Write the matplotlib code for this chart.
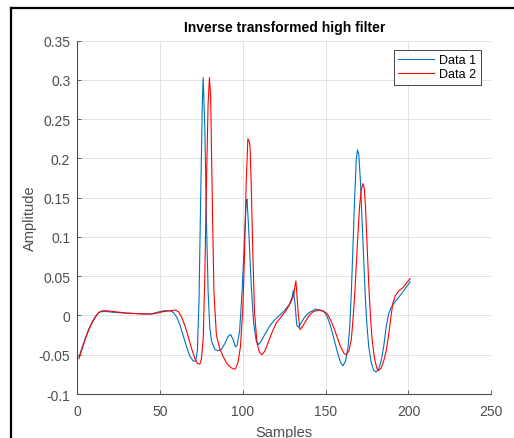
# Recreates the "Inverse transformed high filter" plot (MATLAB look)

import matplotlib
matplotlib.use('Agg')
import matplotlib.pyplot as plt
from matplotlib.lines import Line2D
from matplotlib.ticker import FuncFormatter

plt.rcParams['font.family'] = ['Liberation Sans', 'DejaVu Sans']

# Data 1 (blue)
x1 = [1, 3, 5, 7, 9, 11, 13, 15, 18, 22, 30, 40, 45, 48, 52, 56, 58, 60, 62, 64,
      66, 68, 70, 71.5, 72.5, 73.5, 74.5, 75.5, 76, 77, 78, 79, 80, 81, 83, 85, 87,
      89, 91, 92.5, 94, 95.5, 96.5, 98, 99.5, 101, 102, 102.5, 103.5, 105, 106.5,
      108, 109.5, 111, 113, 116, 119, 122, 125, 128, 129.5, 130.5, 131.5, 132.5,
      133.5, 135, 137, 139, 141, 144, 147, 149, 151, 153, 155, 157, 159, 160.5,
      162, 163.5, 164.5, 165.5, 166.5, 167.5, 168.5, 169.2, 170, 171, 172, 173,
      174, 175, 176, 177.5, 179, 180.5, 182, 183.5, 185, 186.5, 188, 189.5, 191,
      194, 197, 201]
y1 = [-0.053, -0.040, -0.028, -0.017, -0.008, -0.001, 0.004, 0.005, 0.005, 0.004,
      0.003, 0.002, 0.002, 0.004, 0.006, 0.006, 0.004, -0.002, -0.012, -0.026,
      -0.040, -0.052, -0.058, -0.058, -0.045, 0.02, 0.15, 0.27, 0.303, 0.24, 0.12,
      0.03, -0.015, -0.032, -0.043, -0.045, -0.043, -0.036, -0.027, -0.024, -0.030,
      -0.040, -0.038, -0.02, 0.03, 0.10, 0.145, 0.148, 0.11, 0.04, -0.01, -0.032,
      -0.037, -0.033, -0.025, -0.014, -0.006, 0.000, 0.006, 0.014, 0.022, 0.032,
      0.015, -0.012, -0.015, -0.010, -0.003, 0.002, 0.005, 0.008, 0.007, 0.005,
      -0.002, -0.014, -0.030, -0.046, -0.060, -0.064, -0.058, -0.040, -0.015, 0.03,
      0.09, 0.15, 0.200, 0.211, 0.205, 0.17, 0.12, 0.07, 0.02, -0.015, -0.040,
      -0.060, -0.070, -0.072, -0.068, -0.058, -0.040, -0.015, 0.002, 0.010, 0.015,
      0.023, 0.031, 0.043]

# Data 2 (red)
x2 = [1, 3, 5, 7, 9, 11, 13, 15, 18, 22, 30, 40, 45, 48, 52, 56, 59, 61, 63, 65,
      67, 69, 71, 72.5, 74, 75, 76, 77, 78, 79, 79.8, 80.5, 81.5, 82.5, 84, 86, 88,
      90, 92, 94, 95.5, 97, 98.5, 100, 101, 102, 103, 103.8, 104.3, 105, 106, 107,
      108.5, 110, 111.5, 113, 115, 117.5, 120, 123, 126, 128.5, 130.5, 131.5, 132,
      132.5, 133.5, 134.5, 136, 138, 140, 142.5, 146, 149, 151, 153, 155, 157, 159,
      161, 162.5, 164, 165.5, 166.5, 167.5, 168.5, 169.5, 170.5, 171.5, 172.5,
      173.3, 174, 175, 176, 177, 178, 179.5, 181, 182, 183.5, 185, 186.5, 188,
      189.5, 190.5, 192, 194, 197, 199, 201]
y2 = [-0.055, -0.042, -0.029, -0.018, -0.009, -0.002, 0.004, 0.006, 0.006, 0.005,
      0.003, 0.002, 0.002, 0.003, 0.005, 0.006, 0.007, 0.005, -0.002, -0.013,
      -0.027, -0.042, -0.055, -0.061, -0.062, -0.055, -0.03, 0.05, 0.17, 0.27,
      0.303, 0.28, 0.15, 0.03, -0.025, -0.042, -0.052, -0.060, -0.065, -0.068,
      -0.068, -0.060, -0.040, 0.01, 0.08, 0.17, 0.225, 0.222, 0.215, 0.17, 0.08,
      0.005, -0.035, -0.047, -0.050, -0.046, -0.036, -0.022, -0.010, -0.002, 0.006,
      0.015, 0.025, 0.038, 0.044, 0.030, 0.000, -0.018, -0.014, -0.007, 0.000,
      0.005, 0.007, 0.005, 0.002, -0.006, -0.016, -0.028, -0.040, -0.048, -0.050,
      -0.045, -0.030, -0.005, 0.025, 0.065, 0.105, 0.140, 0.160, 0.168, 0.162,
      0.14, 0.09, 0.04, 0.000, -0.030, -0.055, -0.068, -0.070, -0.067, -0.058,
      -0.046, -0.025, 0.000, 0.015, 0.025, 0.031, 0.036, 0.042, 0.047]

labels = ['Data 1', 'Data 2']
x_ticks = [0, 50, 100, 150, 200, 250]
y_ticks = [-0.1, -0.05, 0, 0.05, 0.1, 0.15, 0.2, 0.25, 0.3, 0.35]

axis_grey = '#4d4d4d'

fig = plt.figure(figsize=(5.14, 4.39), dpi=100)
ax = fig.add_axes([0.1504, 0.1002, 0.8054, 0.8048])

ax.plot(x1, y1, color='#0072BD', linewidth=0.8, label=labels[0])
ax.plot(x2, y2, color='#FF0000', linewidth=0.8, label=labels[1])

ax.set_xlim(0, 250)
ax.set_ylim(-0.1, 0.35)
ax.set_xticks(x_ticks)
ax.set_yticks(y_ticks)
ax.yaxis.set_major_formatter(FuncFormatter(lambda v, p: '%g' % round(v, 3)))

# MATLAB-like axes: box off, light grid, inward ticks
for side in ['top', 'right']:
    ax.spines[side].set_visible(False)
for side in ['left', 'bottom']:
    ax.spines[side].set_color(axis_grey)
    ax.spines[side].set_linewidth(0.8)
ax.tick_params(direction='in', length=3, width=0.6, colors=axis_grey,
               labelsize=10, labelcolor=axis_grey)
ax.tick_params(axis='x', pad=7)
ax.tick_params(axis='y', pad=5)
ax.grid(True, color='#e2e2e2', linewidth=0.7)
ax.set_axisbelow(True)

ax.set_title('Inverse transformed high filter', fontsize=10, fontweight='bold', pad=7)
ax.set_xlabel('Samples', fontsize=10.5, color=axis_grey, labelpad=5)
ax.set_ylabel('Amplitude', fontsize=10.5, color=axis_grey, labelpad=1)

leg = ax.legend(loc='upper right', bbox_to_anchor=(0.975, 0.974), fontsize=9,
                fancybox=False, framealpha=1, edgecolor='#262626',
                handlelength=2.9, borderpad=0.35, labelspacing=0.15,
                handletextpad=0.4, borderaxespad=0)
leg.get_frame().set_linewidth(0.6)

# black frame round the screenshot (left and top visible)
fw, fh = 514.0, 439.0
fig.add_artist(Line2D([11 / fw, 11 / fw], [0, 1 - 8.5 / fh], color='black',
                      linewidth=1.6, transform=fig.transFigure))
fig.add_artist(Line2D([11 / fw, 1], [1 - 8.5 / fh, 1 - 8.5 / fh], color='black',
                      linewidth=1.6, transform=fig.transFigure))

fig.savefig('out.png', dpi=100)
